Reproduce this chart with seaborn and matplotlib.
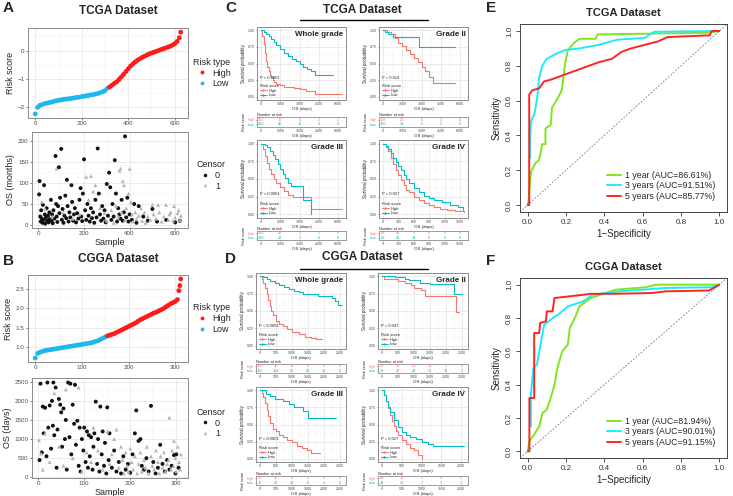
import pandas as pd
import seaborn as sns
import matplotlib.pyplot as plt
from matplotlib.lines import Line2D
from matplotlib.ticker import AutoMinorLocator

# ---------------- A / B : ranked risk score ----------------
tcga_rank = [0, 10, 20, 30, 40, 50, 60, 70, 80, 90, 100, 110, 120, 130, 140, 150, 160, 170, 180, 190,
             200, 210, 220, 230, 240, 250, 260, 270, 280, 290, 300, 310, 320, 330, 340, 350, 360, 370, 380, 390,
             400, 410, 420, 430, 440, 450, 460, 470, 480, 490, 500, 510, 520, 530, 540, 550, 560, 570, 580, 590,
             600, 610, 620, 626]
tcga_score = [-2.23, -2.00, -1.93, -1.90, -1.87, -1.85, -1.83, -1.81, -1.79, -1.77,
              -1.75, -1.74, -1.72, -1.71, -1.70, -1.69, -1.68, -1.66, -1.65, -1.64,
              -1.62, -1.61, -1.59, -1.58, -1.56, -1.55, -1.53, -1.51, -1.48, -1.45,
              -1.41, -1.33, -1.28, -1.22, -1.16, -1.10, -1.02, -0.93, -0.84, -0.74,
              -0.64, -0.55, -0.47, -0.40, -0.34, -0.29, -0.24, -0.20, -0.16, -0.12,
              -0.09, -0.06, -0.03, 0.00, 0.03, 0.06, 0.09, 0.12, 0.15, 0.19,
              0.24, 0.32, 0.45, 0.65]
tcga_cut = 313

cgga_rank = [0, 5, 10, 15, 20, 25, 30, 35, 40, 45, 50, 55, 60, 65, 70, 75, 80, 85, 90, 95,
             100, 105, 110, 115, 120, 125, 130, 135, 140, 145, 150, 155, 160, 165, 170, 175, 180, 185, 190, 195,
             200, 205, 210, 215, 220, 225, 230, 235, 240, 245, 250, 255, 260, 265, 270, 275, 280, 285, 290, 295,
             300, 305, 308, 310, 312]
cgga_score = [0.72, 0.84, 0.87, 0.89, 0.91, 0.92, 0.93, 0.94, 0.95, 0.96,
              0.97, 0.98, 0.99, 1.00, 1.01, 1.02, 1.03, 1.04, 1.05, 1.06,
              1.07, 1.08, 1.09, 1.10, 1.11, 1.13, 1.15, 1.17, 1.20, 1.23,
              1.26, 1.29, 1.31, 1.33, 1.35, 1.38, 1.41, 1.44, 1.47, 1.50,
              1.53, 1.56, 1.59, 1.62, 1.66, 1.70, 1.73, 1.76, 1.79, 1.82,
              1.85, 1.88, 1.90, 1.93, 1.96, 1.99, 2.03, 2.07, 2.11, 2.14,
              2.17, 2.22, 2.45, 2.58, 2.75]
cgga_cut = 155

# ---------------- A / B : survival time per sample ----------------
tcga_dead_x = [3, 5, 8, 10, 12, 15, 18, 20, 22, 25, 28, 30, 33, 36, 38, 42, 45, 48, 50, 55,
               58, 60, 63, 66, 70, 75, 78, 80, 83, 86, 90, 92, 95, 100, 103, 106, 110, 114, 118, 122,
               125, 128, 132, 136, 140, 145, 148, 152, 156, 160, 165, 170, 175, 180, 185, 188, 192, 195, 200, 205,
               210, 215, 220, 225, 230, 235, 240, 245, 250, 255, 260, 265, 270, 275, 280, 285, 290, 295, 300, 305,
               310, 315, 320, 325, 330, 335, 340, 345, 350, 355, 360, 365, 370, 375, 380, 385, 390, 395, 400, 410,
               420, 430, 440, 460, 480, 500, 520, 560, 600, 620]
tcga_dead_y = [73, 105, 20, 8, 35, 15, 5, 48, 12, 95, 25, 3, 18, 40, 10, 22, 6, 30, 14, 60,
               9, 25, 4, 35, 15, 165, 50, 20, 7, 45, 138, 28, 65, 182, 12, 38, 5, 22, 70, 16,
               108, 45, 8, 30, 18, 95, 55, 10, 25, 40, 6, 28, 15, 60, 88, 20, 9, 75, 157, 35,
               12, 50, 22, 8, 40, 16, 30, 5, 60, 18, 183, 75, 25, 10, 45, 15, 35, 6, 98, 22,
               125, 90, 12, 50, 20, 155, 75, 8, 40, 25, 15, 60, 10, 30, 212, 18, 65, 8, 25, 12,
               50, 5, 45, 20, 10, 38, 8, 12, 6, 10]
tcga_alive_x = [15, 30, 60, 80, 110, 150, 180, 210, 220, 230, 240, 250, 270, 290, 300, 320, 330, 340, 350, 355,
                360, 365, 370, 375, 380, 385, 395, 400, 405, 410, 415, 425, 430, 440, 450, 455, 465, 470, 480, 490,
                500, 505, 515, 525, 530, 540, 550, 560, 570, 575, 580, 590, 595, 600, 610, 615, 620, 625]
tcga_alive_y = [55, 38, 20, 135, 30, 15, 25, 115, 60, 117, 80, 95, 40, 28, 10, 35, 5, 45, 20, 130,
                135, 30, 105, 95, 12, 40, 75, 134, 55, 25, 8, 30, 15, 22, 40, 10, 30, 5, 20, 12,
                48, 25, 15, 48, 30, 8, 20, 48, 12, 25, 30, 10, 45, 18, 28, 35, 12, 22]

cgga_dead_x = [3, 5, 8, 10, 12, 15, 18, 20, 22, 25, 28, 30, 32, 33, 35, 38, 40, 42, 45, 48,
               50, 52, 55, 58, 60, 62, 65, 68, 70, 72, 75, 78, 80, 82, 85, 88, 90, 92, 95, 98,
               100, 103, 106, 108, 110, 112, 115, 118, 120, 122, 125, 128, 130, 133, 135, 138, 140, 143, 145, 148,
               150, 153, 155, 160, 165, 170, 175, 180, 185, 190, 195, 200, 205, 210, 213, 218, 222, 225, 230, 235,
               240, 245, 250, 255, 260, 265, 270, 275, 280, 285, 290, 295, 298, 300, 305]
cgga_dead_y = [450, 2450, 650, 1850, 1150, 1820, 550, 2480, 1300, 1880, 750, 2000, 1350, 2480, 1100, 2350, 250, 1250, 2050, 1900,
               1700, 800, 1800, 1000, 1500, 200, 2480, 1050, 2450, 600, 1900, 1400, 2420, 850, 1480, 300, 1300, 150, 1000, 700,
               1300, 400, 1200, 250, 1100, 550, 1050, 200, 800, 1150, 1980, 350, 1000, 150, 1850, 600, 1200, 300, 900, 100,
               1830, 450, 1150, 250, 700, 150, 400, 100, 550, 200, 350, 120, 600, 1150, 1750, 950, 1000, 300, 200, 500,
               150, 1870, 400, 100, 250, 850, 350, 150, 450, 200, 300, 580, 100, 600, 250]
cgga_alive_x = [2, 6, 10, 15, 25, 35, 45, 55, 60, 75, 88, 95, 105, 115, 120, 130, 140, 150, 155, 160,
                165, 170, 175, 180, 183, 186, 190, 193, 196, 200, 203, 206, 210, 215, 218, 222, 225, 230, 233, 236,
                240, 245, 248, 252, 256, 260, 263, 266, 270, 273, 276, 280, 283, 285, 288, 291, 294, 295, 298, 300,
                303, 306, 308, 310]
cgga_alive_y = [970, 620, 200, 1150, 400, 2200, 800, 300, 2300, 500, 2350, 150, 650, 400, 1300, 700, 200, 1200, 350, 600,
                1000, 1250, 250, 800, 450, 100, 650, 300, 150, 750, 400, 200, 550, 100, 350, 650, 150, 450, 250, 800,
                100, 550, 300, 200, 700, 400, 100, 550, 250, 650, 150, 350, 450, 1560, 200, 700, 300, 950, 500, 150,
                800, 400, 200, 600]

# ---------------- C : TCGA Kaplan-Meier ----------------
tcga_whole_high_t = [0, 100, 200, 300, 400, 500, 600, 700, 800, 900, 1000, 1200, 1500, 1800, 2200, 2600, 3000, 3500, 4200, 6300]
tcga_whole_high_s = [1.0, 0.92, 0.80, 0.66, 0.54, 0.45, 0.38, 0.33, 0.29, 0.25, 0.22, 0.19, 0.17, 0.15, 0.14, 0.13, 0.12, 0.09, 0.04, 0.04]
tcga_whole_low_t = [0, 200, 400, 600, 800, 1000, 1200, 1500, 1800, 2100, 2400, 2700, 3000, 3300, 3600, 3900, 4200, 5600]
tcga_whole_low_s = [1.0, 0.98, 0.95, 0.91, 0.87, 0.82, 0.78, 0.72, 0.66, 0.61, 0.57, 0.54, 0.50, 0.45, 0.41, 0.38, 0.33, 0.33]

tcga_g2_high_t = [0, 300, 600, 900, 1200, 1500, 1800, 2100, 2400, 2700, 3000, 3300, 3600, 3900, 5600]
tcga_g2_high_s = [1.0, 0.98, 0.95, 0.88, 0.81, 0.76, 0.70, 0.65, 0.58, 0.52, 0.45, 0.38, 0.29, 0.20, 0.20]
tcga_g2_low_t = [0, 150, 400, 800, 2800, 5600]
tcga_g2_low_s = [1.0, 0.97, 0.95, 0.90, 0.75, 0.75]

tcga_g3_high_t = [0, 150, 300, 450, 600, 800, 1000, 1200, 1500, 1800, 2100, 2500, 3900, 6300]
tcga_g3_high_s = [1.0, 0.92, 0.82, 0.72, 0.64, 0.57, 0.50, 0.45, 0.39, 0.33, 0.27, 0.24, 0.08, 0.08]
tcga_g3_low_t = [0, 300, 500, 700, 900, 1100, 1300, 1500, 1700, 1900, 2100, 2300, 3300, 3900]
tcga_g3_low_s = [1.0, 0.98, 0.95, 0.90, 0.84, 0.78, 0.71, 0.64, 0.57, 0.51, 0.45, 0.40, 0.20, 0.0]

tcga_g4_high_t = [0, 50, 100, 150, 200, 250, 300, 350, 400, 450, 500, 600, 700, 800, 900, 1000, 1100, 1250, 1400, 1575]
tcga_g4_high_s = [1.0, 0.95, 0.89, 0.80, 0.71, 0.63, 0.55, 0.48, 0.41, 0.35, 0.31, 0.25, 0.20, 0.16, 0.13, 0.10, 0.08, 0.06, 0.05, 0.03]
tcga_g4_low_t = [0, 50, 100, 150, 200, 250, 300, 350, 400, 450, 500, 600, 700, 800, 900, 1000, 1150, 1300, 1450, 1550]
tcga_g4_low_s = [1.0, 0.96, 0.92, 0.86, 0.80, 0.74, 0.68, 0.62, 0.56, 0.50, 0.45, 0.37, 0.31, 0.26, 0.23, 0.21, 0.18, 0.14, 0.11, 0.06]

# ---------------- D : CGGA Kaplan-Meier ----------------
cgga_whole_high_t = [0, 50, 100, 150, 200, 250, 300, 350, 400, 500, 600, 700, 850, 1000, 1200, 1400, 1600, 1750, 1920]
cgga_whole_high_s = [1.0, 0.97, 0.91, 0.83, 0.75, 0.66, 0.57, 0.50, 0.44, 0.36, 0.31, 0.28, 0.24, 0.20, 0.16, 0.13, 0.11, 0.09, 0.09]
cgga_whole_low_t = [0, 100, 200, 300, 450, 600, 750, 900, 1050, 1200, 1350, 1500, 1800, 2100, 2250, 2350, 2420, 2550]
cgga_whole_low_s = [1.0, 0.99, 0.97, 0.94, 0.91, 0.88, 0.85, 0.82, 0.79, 0.77, 0.75, 0.74, 0.72, 0.71, 0.69, 0.65, 0.59, 0.59]

cgga_g2_high_t = [0, 70, 300, 500, 700, 900, 1000, 1200, 1330, 2300, 2400]
cgga_g2_high_s = [1.0, 0.97, 0.96, 0.94, 0.90, 0.87, 0.84, 0.80, 0.72, 0.48, 0.48]
cgga_g2_low_t = [0, 400, 700, 850, 1180, 1500, 2250, 2500]
cgga_g2_low_s = [1.0, 0.99, 0.97, 0.95, 0.90, 0.89, 0.75, 0.75]

cgga_g3_high_t = [0, 50, 100, 150, 200, 250, 300, 400, 500, 600, 700, 850, 1000, 1150, 1300, 1450, 1600, 1860]
cgga_g3_high_s = [1.0, 0.96, 0.90, 0.81, 0.72, 0.62, 0.52, 0.44, 0.40, 0.35, 0.32, 0.28, 0.24, 0.19, 0.15, 0.12, 0.08, 0.08]
cgga_g3_low_t = [0, 190, 300, 475, 715, 900, 1050, 1330, 1480, 2380]
cgga_g3_low_s = [1.0, 0.95, 0.92, 0.88, 0.84, 0.80, 0.75, 0.70, 0.60, 0.60]

cgga_g4_high_t = [0, 50, 100, 150, 200, 250, 300, 350, 400, 500, 600, 700, 800, 900, 1000]
cgga_g4_high_s = [1.0, 0.93, 0.84, 0.74, 0.64, 0.55, 0.48, 0.41, 0.35, 0.27, 0.21, 0.16, 0.12, 0.06, 0.0]
cgga_g4_low_t = [0, 50, 100, 150, 200, 300, 400, 500, 600, 700, 850, 1000, 1150, 1300, 2070]
cgga_g4_low_s = [1.0, 0.93, 0.85, 0.76, 0.68, 0.56, 0.46, 0.39, 0.35, 0.32, 0.29, 0.25, 0.22, 0.19, 0.19]

# number at risk tables (High row, Low row)
tcga_whole_risk = [[313, 20, 6, 2, 1], [313, 48, 11, 4, 0]]
tcga_g2_risk = [[126, 21, 6, 3, 0], [150, 19, 5, 2, 0]]
tcga_g3_risk = [[120, 14, 1, 1, 0], [120, 12, 2, 0, 0]]
tcga_g4_risk = [[69, 40, 9, 4, 1, 0], [69, 45, 14, 8, 5, 0]]
cgga_whole_risk = [[155, 40, 10, 4, 0, 0], [155, 114, 80, 48, 18, 0]]
cgga_g2_risk = [[53, 36, 26, 12, 3, 0], [52, 47, 42, 36, 11, 0]]
cgga_g3_risk = [[30, 12, 6, 2, 0, 0], [30, 22, 14, 8, 4, 0]]
cgga_g4_risk = [[48, 11, 3, 0, 0], [48, 20, 7, 3, 1]]

tcga_days_ticks = [0, 1500, 3000, 4500, 6000]
tcga_g4_ticks = [0, 300, 600, 900, 1200, 1500]
cgga_days_ticks = [0, 500, 1000, 1500, 2000, 2500]
cgga_g4_ticks = [0, 500, 1000, 1500, 2000]

# ---------------- E / F : ROC ----------------
tcga_1y_fpr = [0, 0.005, 0.017, 0.04, 0.06, 0.076, 0.093, 0.093, 0.12, 0.127, 0.16, 0.178, 0.195, 0.21, 0.24, 0.27, 0.355, 0.365, 0.95, 1.0]
tcga_1y_tpr = [0, 0.03, 0.19, 0.24, 0.26, 0.35, 0.35, 0.44, 0.46, 0.56, 0.62, 0.66, 0.81, 0.89, 0.93, 0.955, 0.955, 0.98, 0.99, 1.0]
tcga_3y_fpr = [0.012, 0.014, 0.017, 0.025, 0.037, 0.05, 0.06, 0.076, 0.10, 0.15, 0.195, 0.27, 0.37, 0.47, 0.61, 0.66, 1.0]
tcga_3y_tpr = [0.27, 0.40, 0.48, 0.50, 0.53, 0.62, 0.73, 0.80, 0.84, 0.87, 0.89, 0.90, 0.92, 0.95, 0.96, 0.995, 1.0]
tcga_5y_fpr = [0, 0.008, 0.008, 0.025, 0.06, 0.085, 0.12, 0.17, 0.22, 0.27, 0.32, 0.37, 0.44, 0.49, 0.54, 0.61, 0.68, 0.73, 0.95, 0.96, 1.0]
tcga_5y_tpr = [0, 0, 0.635, 0.66, 0.67, 0.71, 0.72, 0.74, 0.76, 0.78, 0.80, 0.82, 0.84, 0.88, 0.90, 0.92, 0.94, 0.965, 0.975, 1.0, 1.0]
tcga_auc = ['1 year (AUC=86.61%)', '3 years (AUC=91.51%)', '5 years (AUC=85.77%)']

cgga_1y_fpr = [0, 0.009, 0.034, 0.06, 0.077, 0.10, 0.12, 0.14, 0.155, 0.18, 0.21, 0.22, 0.25, 0.27, 0.33, 0.38, 0.46, 0.62, 0.67, 1.0]
cgga_1y_tpr = [0, 0.06, 0.10, 0.15, 0.23, 0.25, 0.32, 0.40, 0.50, 0.60, 0.64, 0.74, 0.81, 0.87, 0.92, 0.94, 0.97, 0.985, 1.0, 1.0]
cgga_3y_fpr = [0.017, 0.017, 0.03, 0.048, 0.07, 0.086, 0.12, 0.17, 0.21, 0.29, 0.34, 0.48, 0.72, 0.96, 1.0]
cgga_3y_tpr = [0.15, 0.34, 0.50, 0.52, 0.66, 0.76, 0.79, 0.83, 0.87, 0.90, 0.94, 0.96, 0.98, 0.985, 1.0]
cgga_5y_fpr = [0, 0.009, 0.009, 0.034, 0.034, 0.06, 0.065, 0.095, 0.10, 0.13, 0.14, 0.22, 0.33, 0.45, 0.65, 0.72, 0.945, 0.97, 1.0]
cgga_5y_tpr = [0, 0, 0.32, 0.32, 0.71, 0.71, 0.77, 0.78, 0.84, 0.84, 0.92, 0.93, 0.945, 0.945, 0.95, 0.96, 0.965, 0.98, 1.0]
cgga_auc = ['1 year (AUC=81.94%)', '3 years (AUC=90.01%)', '5 years (AUC=91.15%)']

# colours
RISK_PAL = {'High': '#FF1A1A', 'Low': '#1CB8EE'}
CENSOR_PAL = {'0': '#111111', '1': '#B5B5B5'}
KM_HIGH = '#F8766D'
KM_LOW = '#00BFC4'
ROC_COLORS = ['#7FE61E', '#1EEAFF', '#FF2424']

sns.set_style('whitegrid')
plt.rcParams['font.family'] = ['Liberation Sans', 'DejaVu Sans']

W, H = 733, 496
fig = plt.figure(figsize=(W / 100, H / 100), dpi=100)


def add_box(l, t, r, b):
    # axes placed by pixel edges of the reference picture
    return fig.add_axes([l / W, 1 - b / H, (r - l) / W, (b - t) / H])


def gg_style(ax, size=4.5):
    ax.tick_params(bottom=True, left=True, labelsize=size, colors='#4D4D4D',
                   length=1.5, width=0.5, pad=1)
    ax.xaxis.set_minor_locator(AutoMinorLocator(2))
    ax.yaxis.set_minor_locator(AutoMinorLocator(2))
    ax.tick_params(which='minor', length=0)
    ax.grid(True, which='major', color='#E3E3E3', lw=0.5)
    ax.grid(True, which='minor', color='#F0F0F0', lw=0.3)
    ax.set_axisbelow(True)
    for sp in ax.spines.values():
        sp.set_color('#8C8C8C')
        sp.set_linewidth(0.7)


def risk_panel(box, rank, score, cut, xticks, yticks, ylabels):
    ax = add_box(*box)
    df = pd.DataFrame({'Sample': rank, 'Risk score': score})
    df['Risk type'] = ['Low' if r < cut else 'High' for r in rank]
    sns.scatterplot(data=df, x='Sample', y='Risk score', hue='Risk type', hue_order=['High', 'Low'],
                    palette=RISK_PAL, s=12, linewidth=0, ax=ax)
    ax.set_xticks(xticks)
    ax.set_yticks(yticks)
    ax.set_yticklabels(ylabels)
    ax.set_xlabel('')
    ax.set_ylabel('Risk score', fontsize=6.5, labelpad=2)
    gg_style(ax)
    sns.move_legend(ax, 'center left', bbox_to_anchor=(0.98, 0.5), frameon=False, fontsize=6.5,
                    title_fontsize=6.5, handletextpad=0.1, markerscale=0.8, alignment='left',
                    labelspacing=0.2)


def os_panel(box, dead_x, dead_y, alive_x, alive_y, xticks, yticks, ylabel):
    ax = add_box(*box)
    df = pd.DataFrame({'Sample': dead_x + alive_x, 'OS': dead_y + alive_y,
                       'Censor': ['0'] * len(dead_x) + ['1'] * len(alive_x)})
    sns.scatterplot(data=df, x='Sample', y='OS', hue='Censor', style='Censor', hue_order=['0', '1'],
                    style_order=['0', '1'], palette=CENSOR_PAL, markers={'0': 'o', '1': '^'},
                    s=8, linewidth=0, ax=ax)
    ax.set_xticks(xticks)
    ax.set_yticks(yticks)
    ax.set_xlabel('Sample', fontsize=6.5, labelpad=1)
    ax.set_ylabel(ylabel, fontsize=6.5, labelpad=2)
    gg_style(ax)
    sns.move_legend(ax, 'center left', bbox_to_anchor=(1.0, 0.55), frameon=False, fontsize=6.5,
                    title_fontsize=6.5, handletextpad=0.1, markerscale=0.9, alignment='left',
                    labelspacing=0.2)


def km_panel(main_box, table_box, high_t, high_s, low_t, low_s, xmax, xticks, title, pval, risk):
    ax = add_box(*main_box)
    sns.lineplot(x=high_t, y=high_s, color=KM_HIGH, drawstyle='steps-post', estimator=None,
                 sort=False, lw=0.8, ax=ax)
    sns.lineplot(x=low_t, y=low_s, color=KM_LOW, drawstyle='steps-post', estimator=None,
                 sort=False, lw=0.8, ax=ax)
    ax.set_xlim(-0.05 * xmax, 1.05 * xmax)
    ax.set_ylim(-0.05, 1.05)
    ax.set_xticks(xticks)
    ax.set_yticks([0, 0.25, 0.5, 0.75, 1.0])
    ax.set_yticklabels(['0.00', '0.25', '0.50', '0.75', '1.00'])
    ax.set_xlabel('OS (days)', fontsize=3.2, labelpad=0.3)
    ax.set_ylabel('Survival probability', fontsize=3.3, labelpad=1)
    gg_style(ax, size=2.6)
    ax.tick_params(pad=0.6, length=1)
    ax.text(0.97, 0.95, title, transform=ax.transAxes, ha='right', va='top',
            fontsize=5.8, fontweight='bold')
    ax.text(0.03, 0.29, pval, transform=ax.transAxes, fontsize=3)
    handles = [Line2D([], [], color=KM_HIGH, lw=0.7, marker='+', ms=2),
               Line2D([], [], color=KM_LOW, lw=0.7, marker='+', ms=2)]
    ax.legend(handles, ['High', 'Low'], title='Risk score', loc='lower left', frameon=False,
              fontsize=3, title_fontsize=3, alignment='left', handlelength=1.6,
              labelspacing=0.1, borderaxespad=0.3, handletextpad=0.4)

    tb = add_box(*table_box)
    tb.set_xlim(ax.get_xlim())
    tb.set_ylim(0, 2)
    for k, tk in enumerate(xticks):
        tb.text(tk, 1.45, str(risk[0][k]), color=KM_HIGH, ha='center', va='center', fontsize=2.8)
        tb.text(tk, 0.55, str(risk[1][k]), color=KM_LOW, ha='center', va='center', fontsize=2.8)
    tb.set_xticks(xticks)
    tb.set_yticks([1.45, 0.55])
    tb.set_yticklabels(['High', 'Low'])
    tb.tick_params(bottom=True, left=True, labelsize=2.6, colors='#4D4D4D', length=1,
                   width=0.4, pad=0.6)
    tb.get_yticklabels()[0].set_color(KM_HIGH)
    tb.get_yticklabels()[1].set_color(KM_LOW)
    tb.grid(False)
    for sp in tb.spines.values():
        sp.set_color('#8C8C8C')
        sp.set_linewidth(0.6)
    tb.set_xlabel('OS (days)', fontsize=3.2, labelpad=0.3)
    tb.set_ylabel('Risk score', fontsize=2.8, labelpad=1)
    tb.text(0, 1.04, 'Number at risk', transform=tb.transAxes, fontsize=2.8, va='bottom')


def roc_panel(box, curves, labels, title):
    ax = add_box(*box)
    for (fpr, tpr), lab, col in zip(curves, labels, ROC_COLORS):
        sns.lineplot(x=fpr, y=tpr, color=col, lw=1.4, estimator=None, sort=False, label=lab, ax=ax)
    ax.axline((0, 0), slope=1, color='#777777', lw=0.6, ls=(0, (2, 2)))
    ax.set_xlim(-0.04, 1.04)
    ax.set_ylim(-0.04, 1.04)
    ax.set_xticks([0, 0.2, 0.4, 0.6, 0.8, 1.0])
    ax.set_yticks([0, 0.2, 0.4, 0.6, 0.8, 1.0])
    ax.set_xticklabels(['0.0', '0.2', '0.4', '0.6', '0.8', '1.0'])
    ax.set_yticklabels(['0.0', '0.2', '0.4', '0.6', '0.8', '1.0'], rotation=90, va='center')
    ax.grid(False)
    ax.tick_params(bottom=True, left=True, labelsize=5.8, colors='#333333', length=3,
                   width=0.6, pad=2)
    for sp in ax.spines.values():
        sp.set_color('#444444')
        sp.set_linewidth(0.7)
    ax.set_xlabel('1\u2212Specificity', fontsize=7, labelpad=2)
    ax.set_ylabel('Sensitivity', fontsize=7, labelpad=3)
    ax.set_title(title, fontsize=8, fontweight='bold', pad=6)
    ax.legend(loc='lower right', frameon=False, fontsize=6.3, handlelength=1.6,
              labelspacing=0.15, borderaxespad=0.9, handletextpad=0.5)


# ---- panel A / B ----
risk_panel((28, 28, 188, 118), tcga_rank, tcga_score, tcga_cut, [0, 200, 400, 600],
           [-2, -1, 0], ['\u22122', '\u22121', '0'])
os_panel((32, 132, 188, 228), tcga_dead_x, tcga_dead_y, tcga_alive_x, tcga_alive_y,
         [0, 200, 400, 600], [0, 50, 100, 150, 200], 'OS (months)')
risk_panel((28, 275, 188, 362), cgga_rank, cgga_score, cgga_cut, [0, 100, 200, 300],
           [1.0, 1.5, 2.0, 2.5], ['1.0', '1.5', '2.0', '2.5'])
os_panel((32, 378, 188, 478), cgga_dead_x, cgga_dead_y, cgga_alive_x, cgga_alive_y,
         [0, 100, 200, 300], [0, 500, 1000, 1500, 2000, 2500], 'OS (days)')

# ---- panel C ----
km_panel((257, 27, 346, 100), (257, 117, 346, 127), tcga_whole_high_t, tcga_whole_high_s,
         tcga_whole_low_t, tcga_whole_low_s, 6300, tcga_days_ticks, 'Whole grade', 'P < 0.0001',
         tcga_whole_risk)
km_panel((379, 27, 468, 100), (379, 117, 468, 127), tcga_g2_high_t, tcga_g2_high_s,
         tcga_g2_low_t, tcga_g2_low_s, 6300, tcga_days_ticks, 'Grade II', 'P = 0.014', tcga_g2_risk)
km_panel((257, 140, 346, 218), (257, 231, 346, 240), tcga_g3_high_t, tcga_g3_high_s,
         tcga_g3_low_t, tcga_g3_low_s, 6300, tcga_days_ticks, 'Grade III', 'P < 0.0001', tcga_g3_risk)
km_panel((379, 140, 468, 218), (379, 231, 468, 240), tcga_g4_high_t, tcga_g4_high_s,
         tcga_g4_low_t, tcga_g4_low_s, 1575, tcga_g4_ticks, 'Grade IV', 'P = 0.027', tcga_g4_risk)

# ---- panel D ----
km_panel((256, 273, 346, 349), (256, 364, 346, 373), cgga_whole_high_t, cgga_whole_high_s,
         cgga_whole_low_t, cgga_whole_low_s, 2550, cgga_days_ticks, 'Whole grade', 'P < 0.0001',
         cgga_whole_risk)
km_panel((378, 273, 468, 349), (378, 364, 468, 373), cgga_g2_high_t, cgga_g2_high_s,
         cgga_g2_low_t, cgga_g2_low_s, 2550, cgga_days_ticks, 'Grade II', 'P = 0.047', cgga_g2_risk)
km_panel((256, 387, 346, 462), (256, 476, 346, 485), cgga_g3_high_t, cgga_g3_high_s,
         cgga_g3_low_t, cgga_g3_low_s, 2550, cgga_days_ticks, 'Grade III', 'P < 0.0001', cgga_g3_risk)
km_panel((378, 387, 468, 462), (378, 476, 468, 485), cgga_g4_high_t, cgga_g4_high_s,
         cgga_g4_low_t, cgga_g4_low_s, 2070, cgga_g4_ticks, 'Grade IV', 'P = 0.027', cgga_g4_risk)

# ---- panel E / F ----
roc_panel((520, 24, 727, 212),
          [(tcga_1y_fpr, tcga_1y_tpr), (tcga_3y_fpr, tcga_3y_tpr), (tcga_5y_fpr, tcga_5y_tpr)],
          tcga_auc, 'TCGA Dataset')
roc_panel((520, 278, 727, 458),
          [(cgga_1y_fpr, cgga_1y_tpr), (cgga_3y_fpr, cgga_3y_tpr), (cgga_5y_fpr, cgga_5y_tpr)],
          cgga_auc, 'CGGA Dataset')

# panel letters and headings
for letter, x, y in [('A', 3, 8), ('B', 3, 261), ('C', 225, 8), ('D', 225, 259),
                     ('E', 486, 8), ('F', 486, 261)]:
    fig.text(x / W, 1 - y / H, letter, fontsize=11, fontweight='bold', va='center')
for txt, x, y in [('TCGA Dataset', 118, 11), ('CGGA Dataset', 118, 259),
                  ('TCGA Dataset', 362, 10), ('CGGA Dataset', 362, 257)]:
    fig.text(x / W, 1 - y / H, txt, fontsize=8.5, fontweight='bold', ha='center', va='center')
for y in (20, 269):
    fig.add_artist(Line2D([300 / W, 428 / W], [1 - y / H, 1 - y / H], color='black', lw=1))

fig.savefig('out.png', dpi=100)
